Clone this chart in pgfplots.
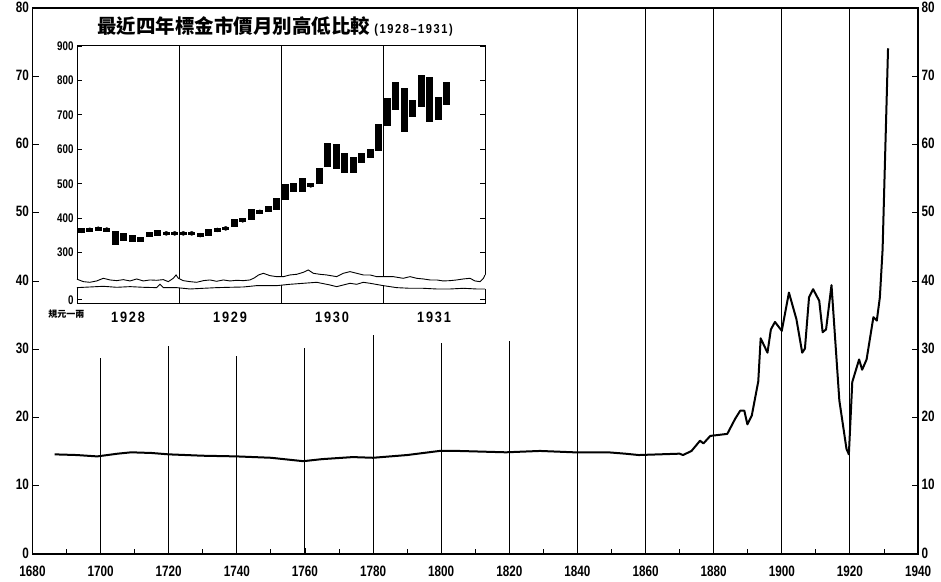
\documentclass[border=0pt]{standalone}
\usepackage{fontspec}
\usepackage{pgfplots}
\pgfplotsset{compat=1.18}
\usepackage{pgfplotstable}
\setmainfont{Liberation Sans}
\newfontfamily\numfont{Liberation Sans}[FakeStretch=0.78]
\newfontfamily\widenum{Liberation Sans}[FakeStretch=0.85, LetterSpace=12]
\newfontfamily\cjk{Noto Sans CJK TC}

% monthly high/low of standard gold price (taels), Jan 1928 - Aug 1931
\pgfplotstableread{
t lo hi
1928.042 356 371
1928.125 361 372
1928.208 364 375
1928.292 361 373
1928.375 322 364
1928.458 335 356
1928.542 332 351
1928.625 330 346
1928.708 346 361
1928.792 348 366
1928.875 351 361
1928.958 351 361
1929.042 351 361
1929.125 351 361
1929.208 346 356
1929.292 348 368
1929.375 361 371
1929.458 366 375
1929.542 375 397
1929.625 388 400
1929.708 396 427
1929.792 413 424
1929.875 419 436
1929.958 424 458
1930.042 453 498
1930.125 477 503
1930.208 477 518
1930.292 490 501
1930.375 499 545
1930.458 548 617
1930.542 542 615
1930.625 530 588
1930.708 530 579
1930.792 561 590
1930.875 574 600
1930.958 596 673
1931.042 668 748
1931.125 714 795
1931.208 651 777
1931.292 693 743
1931.375 722 816
1931.458 680 811
1931.542 685 752
1931.625 729 796
}\gold

\begin{document}
\begin{tikzpicture}
% ---------------- main chart ----------------
\begin{axis}[
  at={(32.5pt,27pt)}, anchor=south west, scale only axis,
  width=885.5pt, height=546pt,
  xmin=1680, xmax=1940, ymin=0, ymax=80,
  xtick={1680,1700,...,1940}, minor xtick={1690,1710,...,1930},
  ytick={0,10,...,80},
  tick align=inside, xtick pos=bottom, ytick pos=left,
  major tick length=6pt, minor tick length=5pt,
  axis line style={line width=1.6pt},
  tick style={black, line width=0.9pt},
  tick label style={font=\numfont\bfseries\fontsize{15}{15}\selectfont},
  x tick label style={yshift=-8pt},
  y tick label style={yshift=1pt},
  /pgf/number format/assume math mode=true,
  /pgf/number format/1000 sep={},
  clip=false,
]
\addplot[ycomb, black, line width=1pt, mark=none] coordinates {
  (1700,28.7) (1720,30.5) (1740,29.0) (1760,30.2) (1780,32.1) (1800,30.9) (1820,31.2)
  (1840,80) (1860,80) (1880,80) (1900,80) (1920,80)};
\addplot[black, line width=2pt, line join=round, mark=none] coordinates {
  (1686.5,14.6) (1693,14.5) (1699,14.3) (1705,14.7) (1709,14.9) (1715,14.8) (1720,14.6)
  (1730,14.4) (1740,14.3) (1750,14.1) (1759.5,13.6) (1765,13.9) (1774,14.2) (1780,14.1)
  (1790,14.5) (1799.5,15.1) (1805,15.1) (1812,15.0) (1819,14.9) (1829,15.1) (1839,14.9)
  (1849,14.9) (1854,14.7) (1858,14.5) (1864,14.6) (1870,14.7) (1871,14.5) (1873.5,15.1)
  (1876,16.6) (1877,16.2) (1879,17.3) (1884,17.6) (1886.3,19.8) (1887.8,21.0) (1889,21.0)
  (1889.9,19.0) (1891.2,20.3) (1893.1,25.3) (1893.8,31.6) (1895.8,29.5) (1896.8,32.9)
  (1898,34.0) (1900,32.7) (1902.1,38.3) (1904.3,34.4) (1906,29.5) (1906.8,30.1)
  (1908,37.6) (1909.2,38.8) (1911,37.1) (1912,32.5) (1913,32.9) (1914.6,39.4)
  (1916.9,22.5) (1919,15.4) (1919.7,14.6) (1920.7,25.2) (1922.7,28.5) (1923.6,27.0)
  (1924.9,28.5) (1926.9,34.7) (1927.9,34.2) (1928.8,37.6) (1929.6,44.6) (1931.2,74.1)};
\end{axis}
% right-hand scale
\begin{axis}[
  at={(32.5pt,27pt)}, anchor=south west, scale only axis,
  width=885.5pt, height=546pt,
  xmin=1680, xmax=1940, ymin=0, ymax=80,
  axis x line=none, axis y line*=right,
  ytick={0,10,...,80},
  tick align=inside, major tick length=6pt,
  axis line style={line width=1.6pt},
  tick style={black, line width=0.9pt},
  tick label style={font=\numfont\bfseries\fontsize{15}{15}\selectfont, yshift=1pt},
  /pgf/number format/assume math mode=true,
]
\end{axis}
% ---------------- inset ----------------
\begin{axis}[
  at={(77pt,277pt)}, anchor=south west, scale only axis,
  width=408pt, height=258pt,
  xmin=1928, xmax=1932, ymin=-12, ymax=737,
  set layers, clip=false,
  xtick={1928.5,1929.5,1930.5,1931.5}, xticklabels={1928,1929,1930,1931},
  xtick style={draw=none},
  x tick label style={font=\widenum\bfseries\fontsize{15}{15}\selectfont, yshift=-4pt},
  ytick={0,137,237,337,437,537,637,737},
  yticklabels={0,300,400,500,600,700,800,900},
  y tick label style={font=\numfont\bfseries\fontsize{12.5}{12.5}\selectfont},
  tick align=inside, ytick pos=both, yticklabel pos=left, major tick length=5pt,
  ytick style={black, line width=0.8pt},
  axis line style={line width=1pt},
  /pgf/number format/assume math mode=true,
  title={\cjk\bfseries\fontsize{19.5}{19.5}\selectfont 最近四年標金市價月別高低比較\ {\widenum\bfseries\fontsize{13}{13}\selectfont (1928–1931)}},
  title style={at={(0.485,1)}, anchor=south, yshift=0pt},
]
\addplot[black, line width=1pt, mark=none] coordinates {(1929,-12) (1929,737)};
\addplot[black, line width=1pt, mark=none] coordinates {(1930,-12) (1930,737)};
\addplot[black, line width=1pt, mark=none] coordinates {(1931,-12) (1931,737)};
\addplot[forget plot, only marks, mark=none,
  error bars/.cd, y dir=both, y explicit, error mark=none,
  error bar style={line width=7pt, black}]
  table[x=t, y expr={(\thisrow{lo}+\thisrow{hi})/2-163}, y error expr={(\thisrow{hi}-\thisrow{lo})/2}] {\gold};
% axis break (torn edge)
\addplot[on layer=axis foreground, fill=white, draw=none] coordinates {
  (1927.96,60) (1928.0,60) (1928.062,52.9) (1928.127,51.0) (1928.193,54.9) (1928.258,62.6) (1928.324,57.8)
  (1928.389,55.8) (1928.454,58.7) (1928.520,54.9) (1928.585,60.7) (1928.650,54.9) (1928.716,57.8)
  (1928.781,56.8) (1928.846,58.7) (1928.895,52.9) (1928.944,62.6) (1928.971,72.3) (1928.994,62.6)
  (1929.042,55.8) (1929.108,52.9) (1929.173,51.0) (1929.239,55.8) (1929.304,57.8) (1929.369,53.9)
  (1929.435,57.8) (1929.500,54.9) (1929.565,56.8) (1929.631,55.8) (1929.696,57.8) (1929.74,64)
  (1929.78,72.3) (1929.827,77.1) (1929.892,70.3) (1929.958,67.4) (1930.023,67.4) (1930.088,72.3)
  (1930.154,74.2) (1930.219,80.0) (1930.268,86.8) (1930.317,77.1) (1930.382,74.2) (1930.448,72.3)
  (1930.546,67.4) (1930.611,77.1) (1930.676,82.0) (1930.742,77.1) (1930.807,72.3) (1930.873,72.3)
  (1930.938,67.4) (1931.003,67.4) (1931.101,67.4) (1931.199,62.6) (1931.265,67.4) (1931.330,62.6)
  (1931.395,60.7) (1931.461,57.8) (1931.526,57.8) (1931.591,54.9) (1931.657,55.8) (1931.722,57.8)
  (1931.788,60.7) (1931.853,62.6) (1931.902,54.9) (1931.951,52.9) (1931.984,62.6) (1932.0,72.3)
  (1932.04,72.3) (1932.04,31.6)
  (1932.0,31.6) (1931.918,31.6) (1931.788,33.6) (1931.657,31.6) (1931.526,31.6) (1931.395,33.6)
  (1931.265,33.6) (1931.134,35.5) (1931.003,41.3) (1930.873,48.1) (1930.807,51.0) (1930.742,45.2)
  (1930.676,48.1) (1930.611,43.2) (1930.546,38.4) (1930.480,43.2) (1930.350,51.0) (1930.219,48.1)
  (1930.088,45.2) (1929.958,41.3) (1929.827,41.3) (1929.761,41.3) (1929.631,37.4) (1929.500,36.5)
  (1929.369,35.5) (1929.239,33.6) (1929.108,31.6) (1928.977,35.5) (1928.846,35.5) (1928.814,45.2)
  (1928.781,35.5) (1928.650,36.5) (1928.520,38.4) (1928.389,36.5) (1928.258,39.4) (1928.127,37.4)
  (1928.0,35.5) (1927.96,35.5)} -- cycle;
\addplot[on layer=axis foreground, black, line width=0.9pt, mark=none] coordinates {
  (1928.0,60) (1928.062,52.9) (1928.127,51.0) (1928.193,54.9) (1928.258,62.6) (1928.324,57.8)
  (1928.389,55.8) (1928.454,58.7) (1928.520,54.9) (1928.585,60.7) (1928.650,54.9) (1928.716,57.8)
  (1928.781,56.8) (1928.846,58.7) (1928.895,52.9) (1928.944,62.6) (1928.971,72.3) (1928.994,62.6)
  (1929.042,55.8) (1929.108,52.9) (1929.173,51.0) (1929.239,55.8) (1929.304,57.8) (1929.369,53.9)
  (1929.435,57.8) (1929.500,54.9) (1929.565,56.8) (1929.631,55.8) (1929.696,57.8) (1929.74,64)
  (1929.78,72.3) (1929.827,77.1) (1929.892,70.3) (1929.958,67.4) (1930.023,67.4) (1930.088,72.3)
  (1930.154,74.2) (1930.219,80.0) (1930.268,86.8) (1930.317,77.1) (1930.382,74.2) (1930.448,72.3)
  (1930.546,67.4) (1930.611,77.1) (1930.676,82.0) (1930.742,77.1) (1930.807,72.3) (1930.873,72.3)
  (1930.938,67.4) (1931.003,67.4) (1931.101,67.4) (1931.199,62.6) (1931.265,67.4) (1931.330,62.6)
  (1931.395,60.7) (1931.461,57.8) (1931.526,57.8) (1931.591,54.9) (1931.657,55.8) (1931.722,57.8)
  (1931.788,60.7) (1931.853,62.6) (1931.902,54.9) (1931.951,52.9) (1931.984,62.6) (1932.0,72.3)};
\addplot[on layer=axis foreground, black, line width=0.9pt, mark=none] coordinates {
  (1928.0,35.5) (1928.127,37.4) (1928.258,39.4) (1928.389,36.5) (1928.520,38.4) (1928.650,36.5)
  (1928.781,35.5) (1928.814,45.2) (1928.846,35.5) (1928.977,35.5) (1929.108,31.6) (1929.239,33.6)
  (1929.369,35.5) (1929.500,36.5) (1929.631,37.4) (1929.761,41.3) (1929.827,41.3) (1929.958,41.3)
  (1930.088,45.2) (1930.219,48.1) (1930.350,51.0) (1930.480,43.2) (1930.546,38.4) (1930.611,43.2)
  (1930.676,48.1) (1930.742,45.2) (1930.807,51.0) (1930.873,48.1) (1931.003,41.3) (1931.134,35.5)
  (1931.265,33.6) (1931.395,33.6) (1931.526,31.6) (1931.657,31.6) (1931.788,33.6) (1931.918,31.6)
  (1932.0,31.6)};
\node[font=\cjk\bfseries\fontsize{9}{9}\selectfont] at (rel axis cs:-0.026,-0.04) {規元一兩};
\end{axis}
\pgfresetboundingbox
\path (0,0) rectangle (941pt,581pt);
\end{tikzpicture}
\end{document}
